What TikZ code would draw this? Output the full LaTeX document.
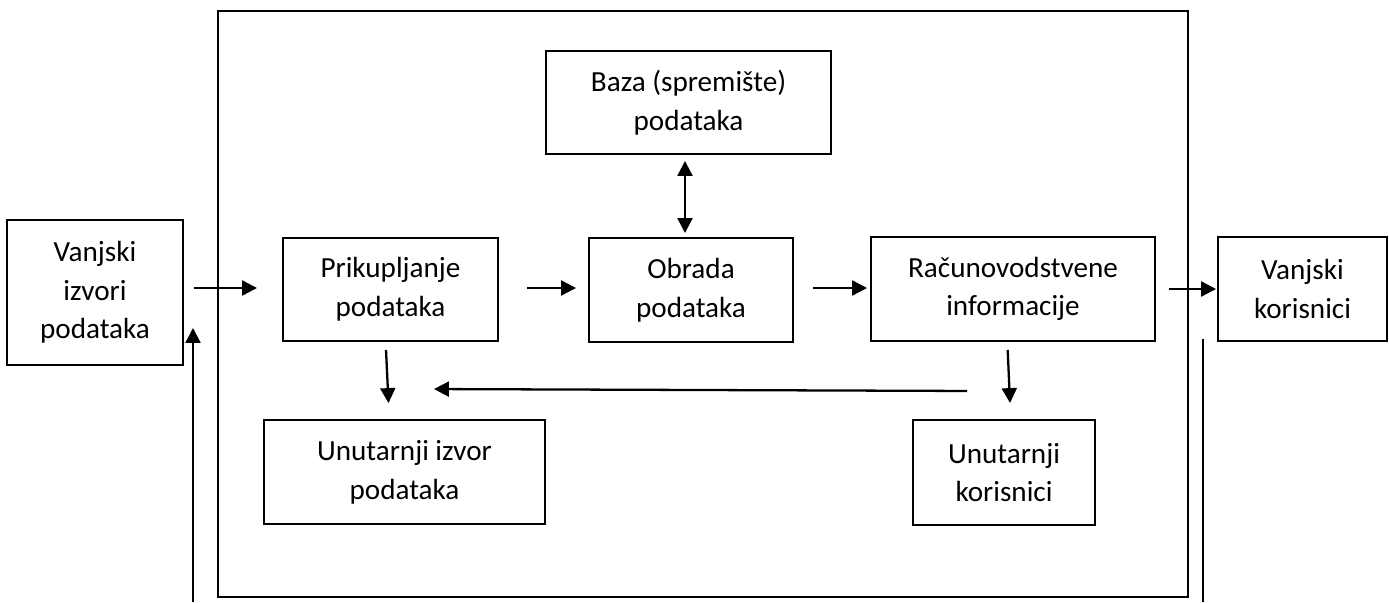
\documentclass[tikz,border=0pt]{standalone}
\usepackage{fontspec}
\setmainfont{Carlito}
\usetikzlibrary{arrows.meta,calc}

\begin{document}
\begin{tikzpicture}[x=0.02cm, y=-0.02cm]
  \tikzstyle{box}=[draw, line width=1.1pt, align=center, inner sep=0pt,
                   font=\fontsize{16.6}{22}\selectfont]
  \tikzstyle{arrow}=[line width=1.3pt, -{Triangle[length=8.5pt,width=8.5pt]}]
  \tikzstyle{both}=[arrow, {Triangle[length=8.5pt,width=8.5pt]}-{Triangle[length=8.5pt,width=8.5pt]}]

  \useasboundingbox (0,0) rectangle (1389,602);

  % Outer frame (the system)
  \node[draw, line width=1.4pt, minimum width=970*0.02cm, minimum height=586*0.02cm,
        inner sep=0pt] (sys) at (703,304) {};

  % Boxes of the middle row
  \node[box, minimum width=176*0.02cm, minimum height=145*0.02cm] (V-in) at (95,292.5)
      {Vanjski\\izvori\\podataka};
  \node[box, minimum width=215*0.02cm, minimum height=103*0.02cm] (P) at (390.5,289.5)
      {Prikupljanje\\podataka};
  \node[box, minimum width=204*0.02cm, minimum height=104*0.02cm] (O) at (691,290)
      {Obrada\\podataka};
  \node[box, minimum width=284*0.02cm, minimum height=104*0.02cm] (R) at (1013,289)
      {Računovodstvene\\informacije};
  \node[box, minimum width=169*0.02cm, minimum height=104*0.02cm] (V-out) at (1302.5,289)
      {Vanjski\\korisnici};

  % Data base on top
  \node[box, minimum width=285*0.02cm, minimum height=103*0.02cm] (B) at (688.5,102.5)
      {Baza (spremište)\\podataka};

  % Inner sources and users at the bottom
  \node[box, minimum width=281*0.02cm, minimum height=104*0.02cm] (U-in) at (404.5,472)
      {Unutarnji izvor\\podataka};
  \node[box, minimum width=182*0.02cm, minimum height=105*0.02cm] (U-out) at (1004,472.5)
      {Unutarnji\\korisnici};

  % Flow along the middle row
  \draw[arrow] ($(V-in.east)+(10,-4.5)$) -- ($(P.west)+(-25,-1.5)$);
  \draw[arrow] ($(P.east)+(28,-1.5)$) -- ($(O.west)+(-12,-2)$);
  \draw[arrow] ($(O.east)+(19,-2)$) -- ($(R.west)+(-3,-1)$);
  \draw[arrow] ($(R.east)+(13,0)$) -- ($(V-out.west)+(-1,0)$);

  % Data base <-> processing
  \draw[both] ($(B.south)+(-3.5,6)$) -- ($(O.north)+(-6,-4)$);

  % Down to the inner boxes and back
  \draw[arrow] ($(P.south)+(-4.5,8)$) -- ($(U-in.north)+(-16,-16)$);
  \draw[arrow] ($(R.south)+(-5.3,8)$) -- ($(U-out.north)+(6,-16)$);
  \draw[arrow] ($(R.south west)+(97,49)$) -- ($(U-in.north)+(29.5,-30)$);

  % Lines leaving the frame at the bottom
  \coordinate (in-foot) at (193,602);
  \coordinate (out-foot) at (1203,602);
  \draw[arrow] (in-foot) -- (in-foot |- {$(V-in.east)+(0,35.5)$});
  \draw[line width=0.8pt] (out-foot) -- (out-foot |- {$(V-out.south)+(0,-3)$});

\end{tikzpicture}
\end{document}
